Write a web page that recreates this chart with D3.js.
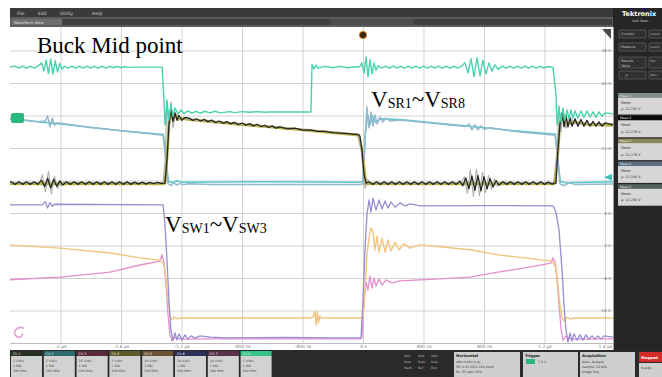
<!DOCTYPE html>
<html><head><meta charset="utf-8">
<script src="https://cdn.jsdelivr.net/npm/d3@7"></script>
<style>body{margin:0;background:#fff}svg{display:block}</style>
</head><body>
<svg id="scope" width="662" height="377"></svg>
<script>
// Horizontal axis: time in ns, 400 ns per division, trigger at 0
const timeTicks = [-2000, -1600, -1200, -800, -400, 0, 400, 800, 1200, 1600];
const timeLabels = ["-2 µs", "-1.6 µs", "-1.2 µs", "-800 ns", "-400 ns", "0 s", "400 ns", "800 ns", "1.2 µs", "1.6 µs"];
// Vertical axis: graticule divisions (0 = bottom line)
const levelTicks = [1, 2, 3, 4, 5, 6, 7, 8, 9];
const levelLabelTicks = [1, 2, 3, 4, 6, 8, 9];
const levelLabels = ["-16 V", "-8 V", "0 V", "8 V", "24 V", "40 V", "48 V"];

// Traces: [time ns, level div]
const buckMid = [[-2400,8.49],[-2334,8.49],[-2300,8.52],[-2275,8.46],[-2250,8.52],[-2225,8.46],[-2200,8.52],[-2175,8.46],[-2150,8.52],
[-2125,8.62],[-2110,8.37],[-2095,8.70],[-2080,8.29],[-2065,8.74],[-2050,8.27],[-2035,8.69],[-2020,8.34],[-2005,8.60],[-1990,8.42],
[-1975,8.52],[-1950,8.46],[-1925,8.52],[-1900,8.46],[-1875,8.52],[-1850,8.46],[-1825,8.52],[-1800,8.46],[-1775,8.52],[-1750,8.46],[-1725,8.52],[-1700,8.46],[-1675,8.51],[-1650,8.47],[-1625,8.51],[-1600,8.47],[-1575,8.50],[-1550,8.48],[-1525,8.49],
[-1328,8.49],[-1316,7.48],[-1309,6.71],[-1296,7.48],[-1283,6.86],[-1270,7.35],[-1256,6.98],[-1243,7.23],[-1223,7.05],[-1203,7.17],[-1184,7.06],[-1157,7.14],[-1131,7.07],[-1104,7.13],[-1078,7.07],[-1045,7.13],[-1012,7.08],[-978,7.13],[-945,7.08],[-879,7.12],[-850,7.09],[-800,7.12],[-750,7.10],[-700,7.12],[-650,7.10],[-600,7.11],
[-344,7.11],[-337,8.58],[-324,8.43],[-311,8.55],[-298,8.46],[-271,8.49],[-250,8.51],[-200,8.47],[-150,8.51],[-100,8.47],[-50,8.50],[-20,8.50],
[-7,8.62],[7,8.30],[20,8.80],[33,8.19],[46,8.72],[60,8.28],[73,8.62],[86,8.39],[99,8.53],
[125,8.46],[150,8.52],[175,8.46],[200,8.52],[225,8.46],[250,8.52],[275,8.46],[300,8.52],[325,8.46],[350,8.52],[375,8.46],[400,8.52],[425,8.46],[450,8.52],[475,8.46],[500,8.52],[525,8.46],[550,8.52],[575,8.46],[600,8.52],[625,8.46],[650,8.51],
[674,8.62],[694,8.31],[714,8.75],[734,8.20],[754,8.78],[774,8.22],[793,8.70],[813,8.28],[833,8.62],[853,8.36],[873,8.56],[893,8.42],
[920,8.52],[945,8.46],[970,8.52],[995,8.46],[1020,8.52],[1045,8.46],[1070,8.52],[1095,8.46],[1120,8.52],[1145,8.46],[1170,8.51],[1195,8.47],[1220,8.50],[1256,8.49],
[1276,7.63],[1283,6.71],[1296,7.23],[1309,6.80],[1322,7.23],[1335,6.86],[1349,7.17],[1362,6.89],[1375,7.17],[1388,6.92],[1402,7.14],[1421,6.92],[1441,7.14],[1461,6.95],[1481,7.14],[1501,6.95],[1521,7.11],[1540,6.95],[1560,7.11],[1580,6.98],[1600,7.08],[1653,7.05]];

const srTeal = [[-2400,6.92],[-2000,6.74],[-1600,6.53],[-1335,6.42],[-1320,6.42],[-1300,5.5],[-1286,4.97],[-1260,4.93],[-1230,4.99],[-1200,4.95],[-600,4.96],[-20,4.95],
[0,4.96],[15,6.4],[30,7.0],[45,6.7],[60,7.0],[80,6.8],[120,6.9],[245,6.88],[1000,6.53],[1256,6.43],[1272,6.43],[1292,5.5],[1305,4.97],[1340,4.93],[1653,4.96]];

const srSteel = [[-2400,6.95],[-2334,6.92],[-2150,6.81],[-2100,6.83],[-2085,6.98],[-2070,6.65],[-2055,6.92],[-2040,6.70],[-2025,6.78],[-1800,6.63],[-1600,6.53],[-1400,6.43],[-1335,6.40],
[-1322,6.40],[-1302,5.63],[-1289,4.90],[-1270,4.84],[-1250,4.93],[-1230,4.86],[-1210,4.91],[-1190,4.87],[-1150,4.90],[-1000,4.88],[-20,4.88],
[0,4.90],[13,6.25],[26,7.26],[40,6.62],[53,7.11],[66,6.68],[79,7.02],[93,6.74],[112,6.95],[132,6.80],[152,6.92],[179,6.83],[245,6.86],
[509,6.74],[680,6.66],[700,6.74],[720,6.56],[740,6.72],[760,6.56],[780,6.68],[800,6.58],[840,6.62],[1038,6.49],[1256,6.40],
[1270,6.40],[1289,5.63],[1302,4.90],[1330,4.84],[1360,4.93],[1400,4.88],[1653,4.89]];

const srOlive = [[-2400,4.90],[-1320,4.90],[-1309,4.92],[-1296,5.7],[-1283,6.75],[-1270,7.15],[-1256,6.85],[-1243,7.05],[-1223,6.88],[-1197,6.92],[-1150,6.87],[-600,6.64],[-30,6.40],[-7,5.95],[20,4.90],
[1265,4.90],[1289,5.9],[1302,6.75],[1320,7.0],[1340,6.72],[1400,6.80],[1500,6.72],[1653,6.70]];

const srGray = [[-2400,4.92],[-2140,4.92],[-2120,5.18],[-2100,4.64],[-2080,5.28],[-2060,4.58],[-2040,5.14],[-2020,4.74],[-2000,4.95],[-1322,4.92],
[-1309,5.6],[-1296,7.35],[-1283,6.45],[-1270,7.42],[-1256,6.62],[-1240,7.05],[-1200,6.90],[-700,6.70],[-30,6.42],[-10,5.9],[5,5.0],[15,4.75],[30,5.05],[50,4.90],
[650,4.92],[670,5.12],[690,4.60],[710,5.34],[730,4.50],[750,5.36],[770,4.52],[790,5.26],[810,4.62],[830,5.16],[850,4.72],[870,5.06],[890,4.82],[910,4.95],
[1270,4.92],[1283,5.8],[1296,7.3],[1309,6.5],[1322,7.2],[1342,6.6],[1362,7.0],[1400,6.75],[1653,6.75]];

const srBlack = [[-2400,4.92],[-2325,4.96],[-2300,4.88],[-2275,4.96],[-2250,4.88],[-2225,4.96],[-2200,4.88],[-2175,4.96],[-2150,4.88],
[-2125,5.01],[-2105,4.81],[-2085,5.07],[-2065,4.77],[-2045,5.04],[-2025,4.82],[-2005,4.99],[-1985,4.86],
[-1960,4.96],[-1935,4.88],[-1910,4.96],[-1885,4.88],[-1860,4.96],[-1835,4.88],[-1810,4.96],[-1785,4.88],[-1760,4.96],[-1735,4.88],[-1710,4.96],[-1685,4.88],[-1660,4.96],[-1635,4.88],[-1610,4.96],[-1585,4.88],[-1560,4.96],[-1535,4.88],[-1510,4.95],[-1485,4.89],[-1460,4.95],[-1435,4.89],[-1410,4.94],[-1385,4.90],[-1360,4.94],[-1335,4.91],[-1309,4.92],
[-1296,5.63],[-1283,6.71],[-1270,7.18],[-1256,6.82],[-1243,7.08],[-1230,6.85],[-1217,7.00],[-1197,6.85],[-1177,6.94],
[-1150,6.92],[-1125,6.85],[-1100,6.90],[-1075,6.83],[-1050,6.88],[-1025,6.81],[-1000,6.86],[-975,6.78],[-950,6.83],[-925,6.76],[-900,6.81],[-875,6.74],[-850,6.79],[-825,6.72],[-800,6.77],[-775,6.70],[-750,6.75],[-725,6.68],[-700,6.73],[-675,6.66],[-650,6.70],[-625,6.63],[-600,6.68],[-575,6.61],[-550,6.65],[-500,6.59],[-450,6.61],[-400,6.55],[-350,6.56],[-300,6.51],[-250,6.51],[-200,6.47],[-150,6.46],[-100,6.44],[-30,6.41],
[-20,6.37],[-7,5.94],[7,5.17],[20,4.92],
[40,4.96],[65,4.88],[90,4.96],[115,4.88],[140,4.96],[165,4.88],[190,4.96],[215,4.88],[240,4.96],[265,4.88],[290,4.96],[315,4.88],[340,4.96],[365,4.88],[390,4.96],[415,4.88],[440,4.96],[465,4.88],[490,4.96],[515,4.88],[540,4.96],[565,4.88],[590,4.96],[615,4.88],
[640,4.98],[660,4.84],[680,5.08],[700,4.74],[720,5.14],[740,4.70],[760,5.16],[780,4.68],[800,5.12],[820,4.74],[840,5.06],[860,4.80],[880,5.00],[900,4.86],
[925,4.96],[950,4.88],[975,4.96],[1000,4.88],[1025,4.96],[1050,4.88],[1075,4.96],[1100,4.88],[1125,4.96],[1150,4.88],[1175,4.96],[1200,4.88],[1225,4.95],[1250,4.89],[1265,4.92],
[1276,4.92],[1289,5.94],[1302,6.71],[1316,7.08],[1329,6.65],[1342,7.00],[1355,6.65],[1369,6.93],[1382,6.67],[1402,6.90],[1421,6.67],[1441,6.88],[1461,6.67],[1481,6.85],[1501,6.67],[1521,6.82],[1540,6.67],[1560,6.80],[1580,6.67],[1600,6.77],[1653,6.71]];

const swPink = [[-2400,1.93],[-2003,2.03],[-1673,2.18],[-1474,2.40],[-1375,2.49],[-1342,2.52],[-1329,2.71],[-1316,2.49],[-1302,1.78],[-1289,0.86],[-1276,0.25],[-1263,0.06],[-1243,0.18],[-1210,0.12],[-1000,0.13],[-20,0.13],
[-7,0.15],[7,1.32],[20,1.88],[33,1.63],[46,2.06],[60,1.69],[73,2.00],[86,1.75],[106,1.97],[126,1.78],[152,1.94],[192,1.85],[245,1.91],[509,1.97],[707,2.03],[893,2.18],[1071,2.31],[1243,2.46],
[1256,2.62],[1270,2.49],[1283,1.94],[1296,1.17],[1309,0.46],[1322,0.09],[1342,0.22],[1369,0.12],[1653,0.13]];

const swOrange = [[-2400,3.03],[-2003,2.92],[-1673,2.77],[-1474,2.62],[-1342,2.55],[-1329,2.49],[-1316,2.40],[-1302,1.94],[-1289,1.32],[-1276,0.83],[-1263,0.71],[-1250,0.80],[-1230,0.74],[-1210,0.77],
[-345,0.77],[-330,0.80],[-318,0.98],[-310,0.55],[-302,0.95],[-294,0.62],[-286,0.83],[-276,0.77],[-15,0.77],
[0,0.77],[13,1.63],[26,2.71],[40,3.23],[53,3.54],[66,3.42],[79,2.86],[93,3.29],[106,2.80],[126,3.23],[146,2.80],[165,3.17],[185,2.83],[212,3.11],[238,2.86],[271,3.05],[311,2.92],[377,3.02],
[509,2.96],[707,2.87],[893,2.71],[1071,2.62],[1243,2.52],[1256,2.49],[1276,2.31],[1289,1.78],[1302,1.17],[1316,0.77],[1329,0.68],[1349,0.80],[1369,0.74],[1402,0.77],[1653,0.77]];

const swPurple = [[-2400,4.25],[-2120,4.25],[-2100,4.35],[-2085,4.15],[-2070,4.32],[-2055,4.20],[-2040,4.27],[-1340,4.25],[-1322,4.25],[-1309,3.63],[-1296,2.55],[-1283,1.32],[-1270,0.40],[-1256,0.09],
[-1243,0.31],[-1230,0.09],[-1217,0.28],[-1197,0.09],[-1177,0.25],[-1157,0.12],[-1137,0.22],[-1111,0.15],[-1078,0.22],[-1012,0.18],[-900,0.16],[-500,0.17],[-200,0.16],[-13,0.16],
[0,1.32],[13,2.86],[26,3.94],[40,4.40],[53,4.03],[66,4.46],[86,4.09],[106,4.40],[126,4.12],[146,4.37],[165,4.15],[185,4.34],[212,4.18],[245,4.31],[278,4.22],[311,4.28],[377,4.22],[800,4.23],[1256,4.22],
[1276,4.03],[1296,3.48],[1316,2.25],[1329,1.17],[1342,0.40],[1355,0.03],[1369,0.31],[1382,0.06],[1395,0.28],[1415,0.09],[1435,0.25],[1455,0.09],[1474,0.25],[1494,0.12],[1514,0.22],[1534,0.12],[1554,0.22],[1574,0.12],[1594,0.22],[1653,0.18]];

// Channel and panel labels
const channelNames = ["Ch 1", "Ch 2", "Ch 3", "Ch 4", "Ch 5", "Ch 6", "Ch 7", "Ch 8"];
const channelScales = ["5 V/div", "5 V/div", "10 V/div", "5 V/div", "10 V/div", "10 V/div", "10 V/div", "5 V/div"];
const measNames = ["Meas 1", "Meas 2", "Meas 3", "Meas 4", "Meas 5"];
const measValues = ["µ: 12.282 V", "µ: 12.276 V", "µ: 12.279 V", "µ: 12.284 V", "µ: 12.280 V"];

const svg = d3.select("#scope");
const FONT = "'DejaVu Sans', sans-serif";

const x = d3.scaleLinear().domain([-2334, 1653]).range([10, 613]);
const y = d3.scaleLinear().domain([0, 10]).range([343, 18]);

// plot background
svg.append("rect").attr("x", 10).attr("y", 27).attr("width", 603).attr("height", 323).attr("fill", "#fff");

// vertical graticule + time labels
svg.append("g").attr("transform", "translate(0,343)")
  .call(d3.axisBottom(x).tickValues(timeTicks).tickSize(-316).tickSizeOuter(0).tickPadding(1.5)
    .tickFormat((d, i) => timeLabels[i]))
  .call(a => a.select(".domain").attr("stroke", "#bcbcbc"))
  .call(a => a.selectAll(".tick line").attr("stroke", "#d2d2d2"))
  .call(a => a.selectAll(".tick text").attr("fill", "#777").style("font-size", "4.5px").style("font-family", FONT));

// horizontal graticule
svg.append("g").attr("transform", "translate(10,0)")
  .call(d3.axisRight(y).tickValues(levelTicks).tickSize(603).tickFormat(""))
  .call(a => a.select(".domain").remove())
  .call(a => a.selectAll(".tick line").attr("stroke", "#d2d2d2"));

// level labels on the right edge
svg.append("g").attr("transform", "translate(612,0)")
  .call(d3.axisLeft(y).tickValues(levelLabelTicks).tickSize(0).tickPadding(1)
    .tickFormat(d => levelLabels[levelLabelTicks.indexOf(d)]))
  .call(a => a.select(".domain").remove())
  .call(a => a.selectAll(".tick text").attr("fill", "#777").style("font-size", "4.2px").style("font-family", FONT));

// waveforms
svg.append("clipPath").attr("id", "plotClip").append("rect")
  .attr("x", 10).attr("y", 27).attr("width", 603).attr("height", 316);
const traces = svg.append("g").attr("clip-path", "url(#plotClip)");
const line = d3.line().x(d => x(d[0])).y(d => y(d[1]));
const traceList = [
  [swPink, "#e48fcf", 1.3],
  [swOrange, "#f3c47e", 1.4],
  [swPurple, "#958ed0", 1.3],
  [srTeal, "#56c7ca", 1.5],
  [srSteel, "#93b9cc", 1.5],
  [srOlive, "#b9b446", 2.8],
  [srGray, "#a8a8a8", 1],
  [srBlack, "#262620", 1.3],
  [buckMid, "#4ad2ac", 1.4]
];
traceList.forEach(([data, color, w]) => {
  traces.append("path").datum(data).attr("d", line)
    .attr("fill", "none").attr("stroke", color).attr("stroke-width", w).attr("stroke-linejoin", "round");
});

// channel markers
svg.append("rect").attr("x", 11).attr("y", y(6.92) - 5).attr("width", 13).attr("height", 10).attr("rx", 2).attr("fill", "#27b97d");
svg.append("path").attr("d", `M612,${y(5.1) - 3.5}L604,${y(5.1)}L612,${y(5.1) + 3.5}Z`).attr("fill", "#3fbfb9");
svg.append("path").attr("d", `M24,${y(0.45)} C18,${y(0.55)} 12,${y(0.35)} 16,${y(0.22)} C19,${y(0.12)} 23,${y(0.2)} 22,${y(0.3)}`)
  .attr("fill", "none").attr("stroke", "#e3a0da").attr("stroke-width", 1.6);

// trigger position marker and corner tab
svg.append("circle").attr("cx", x(0)).attr("cy", 35).attr("r", 3.6).attr("fill", "#3a2614").attr("stroke", "#cf7a22").attr("stroke-width", 1);
svg.append("path").attr("d", "M602,29L611,29L611,39Z").attr("fill", "#4a4a4a");

// annotations
const serif = "'Liberation Serif', 'Times New Roman', serif";
svg.append("text").attr("x", 37).attr("y", 53).style("font-family", serif).style("font-size", "23px").attr("fill", "#000").text("Buck Mid point");
function subLabel(px, py, a, b) {
  const t = svg.append("text").attr("x", px).attr("y", py).style("font-family", serif).style("font-size", "23px").attr("fill", "#000");
  t.append("tspan").text("V");
  t.append("tspan").style("font-size", "14px").attr("dy", 1).text(a);
  t.append("tspan").attr("dy", -1).text("~V");
  t.append("tspan").style("font-size", "14px").attr("dy", 1).text(b);
}
subLabel(371, 107, "SR1", "SR8");
subLabel(165, 232, "SW1", "SW3");

// ---- instrument frame ----
function box(px, py, w, h, fill) {
  return svg.append("rect").attr("x", px).attr("y", py).attr("width", w).attr("height", h).attr("fill", fill);
}
function label(px, py, s, size, fill, weight) {
  return svg.append("text").attr("x", px).attr("y", py).style("font-family", FONT).style("font-size", size + "px")
    .style("font-weight", weight || "normal").attr("fill", fill).text(s);
}

// menu bar and view title bar
box(10, 8, 652, 9, "#3a3a3a");
[["File", 17], ["Edit", 38], ["Utility", 60], ["Help", 92]].forEach(([s, px]) => label(px, 14.5, s, 4.5, "#cfcfcf"));
box(10, 17, 652, 10, "#5c5c5c");
box(12, 19, 600, 6, "#3f3f3f");
box(12, 19, 50, 6, "#6e6e6e");
label(14, 23.6, "Waveform View", 3.8, "#e2e2e2");
box(331, 19, 83, 6, "#4d4d4d");

// right side panel
box(613, 8, 49, 342, "#262626");
box(613, 27, 1, 323, "#9a9a9a");
label(622, 15.5, "Tektronix", 6.5, "#ffffff", "bold");
label(632, 22, "Add New...", 3.5, "#bdbdbd");
[[30, "Cursors", "Callout"], [43, "Measure", "Search"], [57, "Results", "Plot"], [71, "", "More"]].forEach(([py, a, b]) => {
  const h = py === 57 ? 11 : 8;
  svg.append("rect").attr("x", 619).attr("y", py).attr("width", 27).attr("height", h).attr("rx", 1)
    .attr("fill", "#303030").attr("stroke", "#707070").attr("stroke-width", 0.6);
  svg.append("rect").attr("x", 649).attr("y", py).attr("width", 16).attr("height", h).attr("rx", 1)
    .attr("fill", "#303030").attr("stroke", "#707070").attr("stroke-width", 0.6);
  if (a) label(621, py + 5.3, a, 3.4, "#c8c8c8");
  if (py === 57) label(621, py + 9.5, "Table", 3.4, "#c8c8c8");
  label(650.5, py + 5.3, b, 2.6, "#c8c8c8");
});
label(625, 76.5, "⌕", 6, "#bbbbbb");
const measHeader = ["#7e8e88", "#0c0c0c", "#8b8858", "#5a6d7e", "#51625a"];
measNames.forEach((m, i) => {
  const py = 93 + i * 22.8;
  box(618, py, 44, 4.5, measHeader[i]);
  box(618, py + 4.5, 44, 17, "#d6d6d6");
  label(620, py + 3.6, m, 3.2, "#f0f0f0");
  label(621, py + 10.5, "Mean", 3.6, "#333");
  label(621, py + 17, measValues[i], 3.4, "#333");
});

// bottom settings bar
box(10, 350, 652, 27, "#2a2a2a");
const chanColor = ["#27301f", "#2c6b6c", "#5b2a3a", "#5d5b2b", "#6b5232", "#2c2f5c", "#58304c", "#36c486"];
channelNames.forEach((c, i) => {
  const px = 11 + i * 32.8;
  box(px, 351, 31, 5, chanColor[i]);
  box(px, 356, 31, 21, "#d2d2d2");
  label(px + 2, 355, c, 3.4, "#f2f2f2");
  label(px + 2, 361.5, channelScales[i], 3.2, "#444");
  label(px + 2, 366.5, "1 MΩ", 3.2, "#444");
  label(px + 2, 371.5, "500 MHz", 3.2, "#444");
});
[["Math", 404], ["Ref", 418], ["Bus", 431]].forEach(([s, px]) => {
  label(px, 357, "Add", 3.2, "#b5b5b5");
  label(px, 363, "New", 3.2, "#b5b5b5");
  label(px, 369, s, 3.2, "#b5b5b5");
});
box(454, 352, 66, 25, "#cfcfcf");
label(456, 357, "Horizontal", 3.8, "#222", "bold");
label(456, 363, "400 ns/div    4 µs", 3.2, "#333");
label(456, 368, "SR: 6.25 GS/s  160 ps/pt", 3.2, "#333");
label(456, 373, "RL: 25 kpts   50%", 3.2, "#333");
box(523, 352, 55, 25, "#cfcfcf");
label(525, 357, "Trigger", 3.8, "#222", "bold");
box(526, 359, 9, 5, "#29b97b");
label(538, 363, "7.2 V", 3.2, "#333");
box(580, 352, 55, 25, "#cfcfcf");
label(582, 357, "Acquisition", 3.8, "#222", "bold");
label(582, 363, "Auto,    Analyze", 3.2, "#333");
label(582, 368, "Sample: 12 bits", 3.2, "#333");
label(582, 373, "Single Seq", 3.2, "#333");
box(639, 352, 23, 10, "#d42a2a");
label(641, 358.5, "Stopped", 3.6, "#fff", "bold");
box(639, 363, 23, 14, "#cfcfcf");
label(641, 369, "0 acqs", 3.2, "#333");
</script>
</body></html>
